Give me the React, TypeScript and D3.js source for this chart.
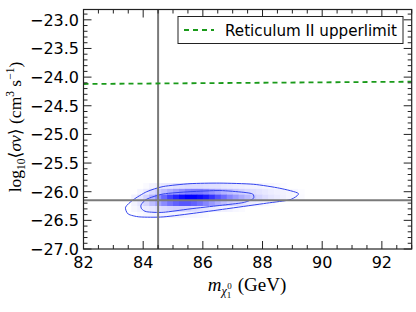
import React from "react";
import * as d3 from "d3";

// ---------- data ----------
const xTicks = [82, 84, 86, 88, 90, 92];
const yTicks = [-27.0, -26.5, -26.0, -25.5, -25.0, -24.5, -24.0, -23.5, -23.0];
const xMinorStep = 0.5;
const yMinorStep = 0.1;

// 2D posterior histogram (mass bins x log10<sigma v> bins), relative density
const binXCenters = [
  83.7, 83.9, 84.1, 84.3, 84.5, 84.7, 84.9, 85.1, 85.3, 85.5,
  85.7, 85.9, 86.1, 86.3, 86.5, 86.7, 86.9, 87.1, 87.3, 87.5,
  87.7, 87.9, 88.1, 88.3, 88.5, 88.7, 88.9, 89.1, 89.3, 89.5,
];
const binYCenters = [-25.9, -26.0, -26.1, -26.2, -26.3, -26.4];
const density = [
  [0, 0, 0.02, 0.05, 0.07, 0.09, 0.1, 0.12, 0.13, 0.14, 0.14, 0.14, 0.13, 0.12, 0.12, 0.1, 0.09, 0.08, 0.07, 0.06, 0.05, 0.05, 0.04, 0.03, 0.02, 0.01, 0, 0, 0, 0],
  [0, 0.04, 0.08, 0.14, 0.2, 0.26, 0.32, 0.38, 0.44, 0.5, 0.52, 0.52, 0.48, 0.42, 0.36, 0.3, 0.26, 0.22, 0.18, 0.15, 0.13, 0.11, 0.09, 0.07, 0.06, 0.05, 0.04, 0.03, 0.01, 0],
  [0.05, 0.1, 0.18, 0.3, 0.45, 0.6, 0.75, 0.86, 0.95, 1.0, 1.0, 0.96, 0.9, 0.8, 0.68, 0.58, 0.48, 0.4, 0.33, 0.27, 0.21, 0.17, 0.13, 0.1, 0.08, 0.06, 0.04, 0.03, 0.02, 0],
  [0.05, 0.1, 0.17, 0.26, 0.36, 0.46, 0.55, 0.62, 0.66, 0.66, 0.62, 0.56, 0.48, 0.4, 0.32, 0.26, 0.2, 0.16, 0.12, 0.09, 0.07, 0.05, 0.03, 0.02, 0, 0, 0, 0, 0, 0],
  [0.03, 0.06, 0.08, 0.1, 0.13, 0.15, 0.17, 0.18, 0.18, 0.17, 0.15, 0.13, 0.11, 0.09, 0.07, 0.06, 0.05, 0.03, 0.02, 0, 0, 0, 0, 0, 0, 0, 0, 0, 0, 0],
  [0, 0.02, 0.04, 0.05, 0.05, 0.05, 0.05, 0.05, 0.05, 0.04, 0.04, 0.03, 0.02, 0, 0, 0, 0, 0, 0, 0, 0, 0, 0, 0, 0, 0, 0, 0, 0, 0],
];

// credible-region contours [mass, log10 sigma v]
const outerContour: [number, number][] = [
  [83.41, -26.27], [83.67, -26.14], [84.12, -26.0], [84.67, -25.91], [85.57, -25.86],
  [86.57, -25.85], [87.69, -25.87], [88.58, -25.94], [89.2, -26.03], [88.92, -26.14],
  [88.14, -26.2], [86.91, -26.29], [85.79, -26.37], [84.67, -26.44], [83.89, -26.44],
  [83.5, -26.39],
];
const innerContour: [number, number][] = [
  [83.93, -26.23], [84.12, -26.13], [84.67, -26.04], [85.57, -26.0], [86.57, -25.98],
  [87.35, -26.01], [87.67, -26.04], [87.69, -26.12], [87.35, -26.19], [86.57, -26.24],
  [85.57, -26.3], [84.67, -26.36], [84.12, -26.35], [83.95, -26.3],
];

const upperLimit: [number, number][] = [
  [82, -24.12],
  [93, -24.08],
];
const markerMass = 84.5;
const markerSigma = -26.15;
const legendLabel = "Reticulum II upperlimit";

// ---------- layout ----------
const W = 416;
const H = 312;
const left = 83.5;
const right = 411.7;
const top = 9.5;
const bottom = 249;

export default function App() {
  const x = d3.scaleLinear().domain([82, 93]).range([left, right]);
  const y = d3.scaleLinear().domain([-27, -22.82]).range([bottom, top]);

  const line = d3
    .line<[number, number]>()
    .x((d) => x(d[0]))
    .y((d) => y(d[1]));
  const closed = d3
    .line<[number, number]>()
    .x((d) => x(d[0]))
    .y((d) => y(d[1]))
    .curve(d3.curveCardinalClosed.tension(0.3));

  const color = d3.interpolateRgb("#ffffff", "#0000ff");
  const bw = 0.2;
  const bh = 0.1;

  const xMinor = d3.range(82, 93.001, xMinorStep);
  const yMinor = d3.range(-27, -22.8, yMinorStep).map((v) => Math.round(v * 10) / 10);

  const fmtY = (v: number) => v.toFixed(1).replace("-", "\u2212");
  const tickFont = "DejaVu Sans, sans-serif";
  const serif = "Liberation Serif, DejaVu Serif, serif";
  const frame = "#222";
  const legendX0 = 178;
  const legendX1 = 403;
  const legendY0 = 16.5;

  return (
    <svg width={W} height={H} style={{ position: "absolute", left: 0, top: 0 }}>
      <rect x={0} y={0} width={W} height={H} fill="#fff" />
      <clipPath id="plotclip">
        <rect x={left} y={top} width={right - left} height={bottom - top} />
      </clipPath>
      <g clipPath="url(#plotclip)">
        {density.map((row, ri) =>
          row.map((v, ci) =>
            v > 0 ? (
              <rect
                key={`c${ri}-${ci}`}
                x={x(binXCenters[ci] - bw / 2)}
                y={y(binYCenters[ri] + bh / 2)}
                width={x(binXCenters[ci] + bw / 2) - x(binXCenters[ci] - bw / 2) + 0.3}
                height={y(binYCenters[ri] - bh / 2) - y(binYCenters[ri] + bh / 2) + 0.3}
                fill={color(v)}
              />
            ) : null
          )
        )}
        <path d={closed(outerContour) || ""} fill="none" stroke="#3344ee" strokeWidth={1} />
        <path d={closed(innerContour) || ""} fill="none" stroke="#3344ee" strokeWidth={1} />
        <line x1={x(markerMass)} x2={x(markerMass)} y1={top} y2={bottom} stroke="#7a7a7a" strokeWidth={2} />
        <line x1={left} x2={right} y1={y(markerSigma)} y2={y(markerSigma)} stroke="#7a7a7a" strokeWidth={2} />
        <path d={line(upperLimit) || ""} fill="none" stroke="#1a9a1a" strokeWidth={1.8} strokeDasharray="5 4" />
      </g>

      {/* ticks */}
      {xMinor.map((v) => {
        const major = Math.abs(v - Math.round(v)) < 1e-6 && Math.round(v) % 2 === 0;
        const len = major ? 8 : 4;
        return (
          <g key={`xt${v}`} stroke={frame} strokeWidth={1}>
            <line x1={x(v)} x2={x(v)} y1={bottom} y2={bottom - len} />
            <line x1={x(v)} x2={x(v)} y1={top} y2={top + len} />
          </g>
        );
      })}
      {yMinor.map((v) => {
        const major = Math.abs(v * 2 - Math.round(v * 2)) < 1e-6;
        const len = major ? 8 : 4;
        return (
          <g key={`yt${v}`} stroke={frame} strokeWidth={1}>
            <line x1={left} x2={left + len} y1={y(v)} y2={y(v)} />
            <line x1={right} x2={right - len} y1={y(v)} y2={y(v)} />
          </g>
        );
      })}
      <rect x={left} y={top} width={right - left} height={bottom - top} fill="none" stroke={frame} strokeWidth={1.2} />

      {/* tick labels */}
      {xTicks.map((v) => (
        <text key={`xl${v}`} x={x(v)} y={268} textAnchor="middle" fontFamily={tickFont} fontSize={16} fill="#000">
          {v}
        </text>
      ))}
      {yTicks.map((v) => (
        <text key={`yl${v}`} x={79} y={y(v) + 6} textAnchor="end" fontFamily={tickFont} fontSize={16} fill="#000">
          {fmtY(v)}
        </text>
      ))}

      {/* legend */}
      <rect x={legendX0} y={legendY0} width={legendX1 - legendX0} height={27} fill="#fff" stroke="#222" strokeWidth={1} />
      <line x1={legendX0 + 6} x2={legendX0 + 36} y1={legendY0 + 13.5} y2={legendY0 + 13.5} stroke="#1a9a1a" strokeWidth={1.8} strokeDasharray="5 4" />
      <text
        x={225}
        y={legendY0 + 19}
        fontFamily={tickFont}
        fontSize={15}
        textLength={172}
        lengthAdjust="spacingAndGlyphs"
        fill="#000"
      >
        {legendLabel}
      </text>

      {/* x label */}
      <text x={247} y={291} textAnchor="middle" fontFamily={serif} fontSize={19} fill="#000">
        <tspan fontStyle="italic">m</tspan>
        <tspan fontStyle="italic" fontSize={12} dy={4}>χ</tspan>
        <tspan fontSize={9} dy={3}>1</tspan>
        <tspan fontSize={9} dx={-4} dy={-9}>0</tspan>
        <tspan dy={2} dx={6}>(GeV)</tspan>
      </text>

      {/* y label */}
      <text
        transform={`translate(21,127) rotate(-90)`}
        textAnchor="middle"
        fontFamily={serif}
        fontSize={17.5}
        fill="#000"
      >
        <tspan>log</tspan>
        <tspan fontSize={11.5} dy={4}>10</tspan>
        <tspan dy={-4}>⟨</tspan>
        <tspan fontStyle="italic">σv</tspan>
        <tspan>⟩ (cm</tspan>
        <tspan fontSize={11.5} dy={-7}>3</tspan>
        <tspan dy={7}> s</tspan>
        <tspan fontSize={11.5} dy={-7}>−1</tspan>
        <tspan dy={7}>)</tspan>
      </text>
    </svg>
  );
}
